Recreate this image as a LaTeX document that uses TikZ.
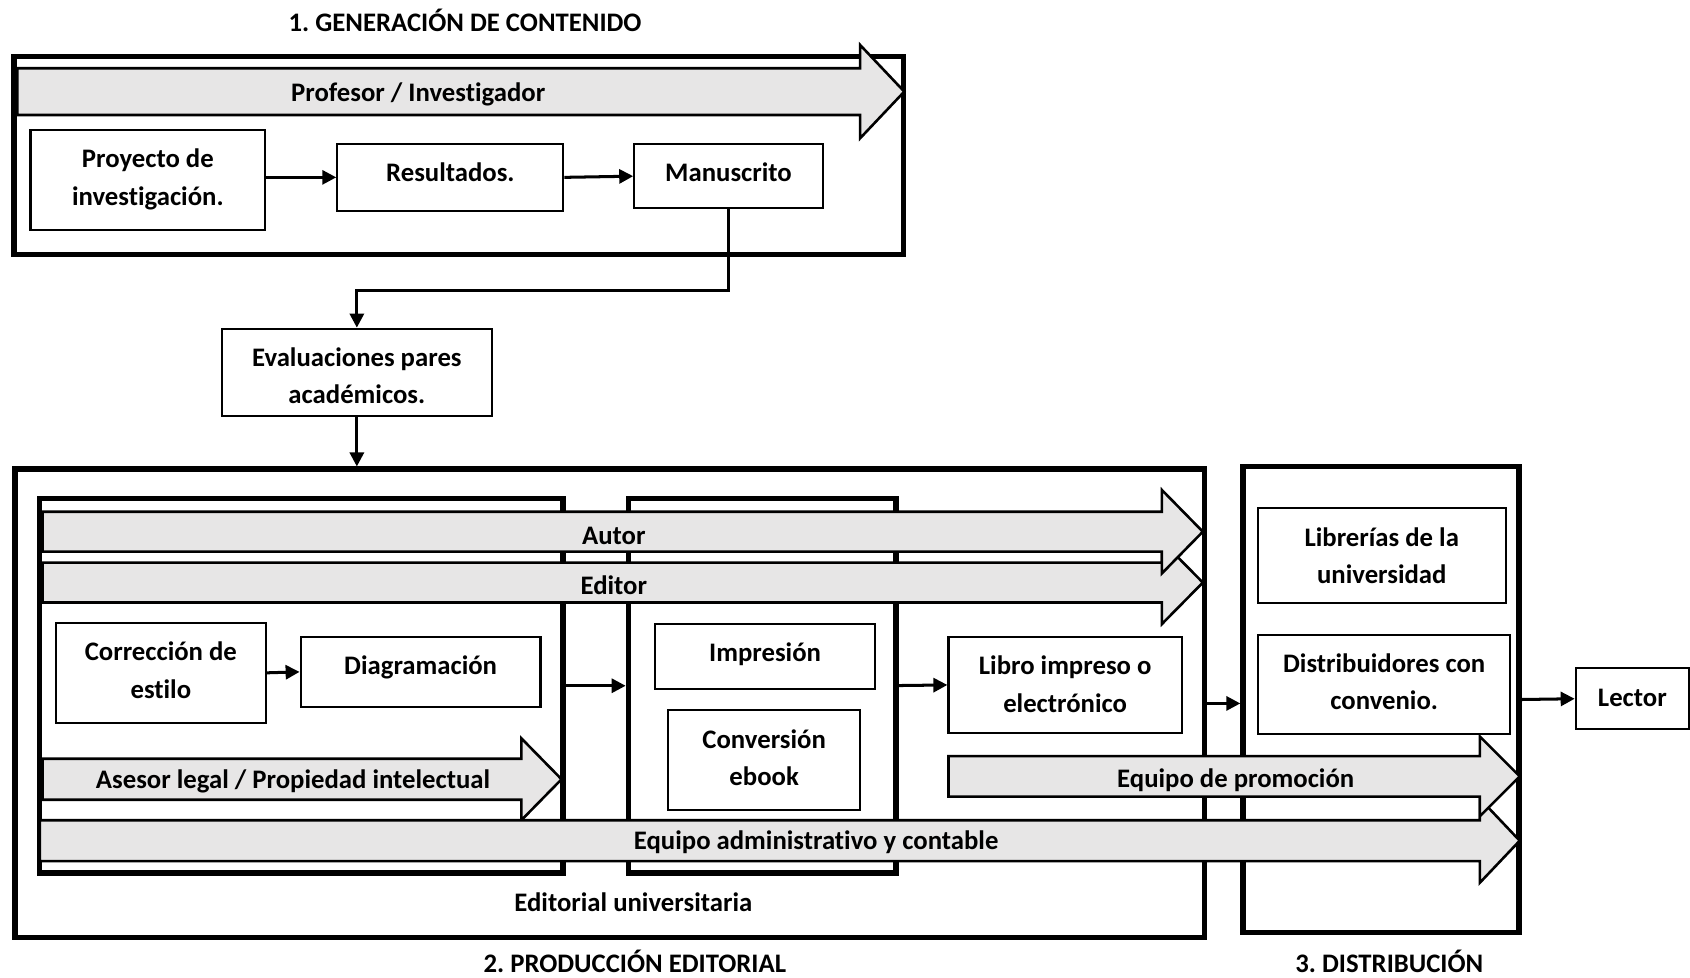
\documentclass[tikz,border=0pt]{standalone}
\usepackage{fontspec}
\setmainfont{Carlito}[Ligatures=NoCommon]
\frenchspacing
\usetikzlibrary{arrows.meta}
\definecolor{bandgray}{RGB}{231,230,230}
% text inside a box: fixed first-line height and a chosen last-line depth
\newcommand\boxtext[2]{\rule{0pt}{25pt}#2\rule[-#1pt]{0pt}{#1pt}}
% wide grey arrow: start x, head base x, tip x, centre y, half shaft, half head
\newcommand\fatarrow[6]{\draw[band] (#1,#4-#5) -- (#2,#4-#5) -- (#2,#4-#6) -- (#3,#4) -- (#2,#4+#6) -- (#2,#4+#5) -- (#1,#4+#5) -- cycle;}
\begin{document}
\begin{tikzpicture}[x=1pt,y=-1pt,
  every node/.style={font=\bfseries\fontsize{24.8}{34.5}\selectfont, inner sep=0pt},
  frame/.style={draw, line width=5pt},
  box/.style={draw, line width=2pt, fill=white, align=center},
  band/.style={draw, line width=2.4pt, fill=bandgray, line join=miter},
  txt/.style={text height=24pt, text depth=5.5pt},
  conn/.style={line width=2.8pt, -{Triangle[length=13pt,width=13pt]}}]
\useasboundingbox (0,0) rectangle (1568,907);

% ---------- 1. Generación de contenido ----------
\node[txt] (t1) at (431.5,19.8) {1. GENERACIÓN DE CONTENIDO};
\node[frame, minimum width=825.5pt, minimum height=183.4pt] (gen) at (425.75,144.3) {};
\fatarrow{16}{798}{839}{85}{21.7}{43.3}
\node[txt] (profesor) at (388,85.3) {Profesor / Investigador};

\node[box, minimum width=217.7pt, minimum height=92.8pt] (proy) at (137.15,167) {\boxtext{13}{Proyecto de\\investigación.}};
\node[box, minimum width=209.7pt, minimum height=61.9pt] (res) at (417.85,164.55) {\boxtext{16.6}{Resultados.}};
\node[box, minimum width=174.8pt, minimum height=59.7pt] (man) at (675.9,163.45) {\boxtext{14.4}{Manuscrito}};

\node[box, minimum width=250.8pt, minimum height=81pt] (eval) at (331.1,345.5) {\boxtext{1.2}{Evaluaciones pares\\académicos.}};

% ---------- 2. Producción editorial / 3. Distribución ----------
\node[frame, minimum width=1103.7pt, minimum height=434.7pt] (prod) at (565.65,652.65) {};
\node[frame, minimum width=256.2pt, minimum height=432pt] (distr) at (1281.4,649) {};
\node[frame, minimum width=485.6pt, minimum height=347.5pt] (stageA) at (279.5,636.25) {};
\node[frame, minimum width=248.3pt, minimum height=347.5pt] (stageB) at (707.15,636.05) {};

\node[box, minimum width=194.5pt, minimum height=92.5pt] (corr) at (149.25,624.25) {\boxtext{12.7}{Corrección de\\estilo}};
\node[box, minimum width=222.5pt, minimum height=64.7pt] (diag) at (390.25,623.35) {\boxtext{19.4}{Diagramación}};
\node[box, minimum width=203.7pt, minimum height=60pt] (impr) at (709.85,609) {\boxtext{14.7}{Impresión}};
\node[box, minimum width=178pt, minimum height=92.5pt] (conv) at (709,705.25) {\boxtext{12.7}{Conversión\\ebook}};
\node[box, minimum width=216.5pt, minimum height=89pt] (lib) at (988.25,635.5) {\boxtext{9.2}{Libro impreso o\\electrónico}};
\node[box, minimum width=230pt, minimum height=88.2pt] (libr) at (1282,515.6) {\boxtext{8.4}{Librerías de la\\universidad}};
\node[box, minimum width=233.5pt, minimum height=92pt] (dist) at (1284.25,635) {\boxtext{12.2}{Distribuidores con\\convenio.}};
\node[box, minimum width=105pt, minimum height=56.6pt] (lector) at (1514.5,648.3) {\boxtext{10.1}{Lector}};

% roles running across the stages
\fatarrow{39.5}{1078}{1116}{540.5}{18.5}{38.5}
\fatarrow{39.5}{1078}{1116}{493.3}{18.5}{38.7}
\fatarrow{39.5}{483.7}{521}{723}{19}{38}
\fatarrow{37}{1373}{1410}{780}{19}{39}
\fatarrow{880}{1373}{1410}{720.3}{18.8}{37}
\node[txt] (autor) at (569.5,496) {Autor};
\node[txt] (editor) at (569.5,542.5) {Editor};
\node[txt] (asesor) at (271.9,721.9) {Asesor legal / Propiedad intelectual};
\node[txt] (admin) at (757.2,779.3) {Equipo administrativo y contable};
\node[txt] (promo) at (1146.5,721.5) {Equipo de promoción};

\node[txt] (eu) at (587.6,836.5) {Editorial universitaria};
\node[txt] (t2) at (589,893) {2. PRODUCCIÓN EDITORIAL};
\node[txt] (t3) at (1289,893) {3. DISTRIBUCIÓN};

% ---------- connectors ----------
\draw[conn] (proy.east |- res.west) -- (res.west);
\draw[conn] (res.east) -- (man.west);
\draw[conn] (man.south) -- ++(0,75.5) -| (eval.north);
\draw[conn] (eval.south) -- (eval.south |- prod.north);
\draw[conn] (corr.east) -- (diag.west);
\draw[conn] (stageA.east) -- (stageA.east -| stageB.west);
\draw[conn] (stageB.east) -- (lib.west);
\draw[conn] (prod.east) -- (prod.east -| distr.west);
\draw[conn] (distr.east) -- (lector.west);
\end{tikzpicture}
\end{document}
